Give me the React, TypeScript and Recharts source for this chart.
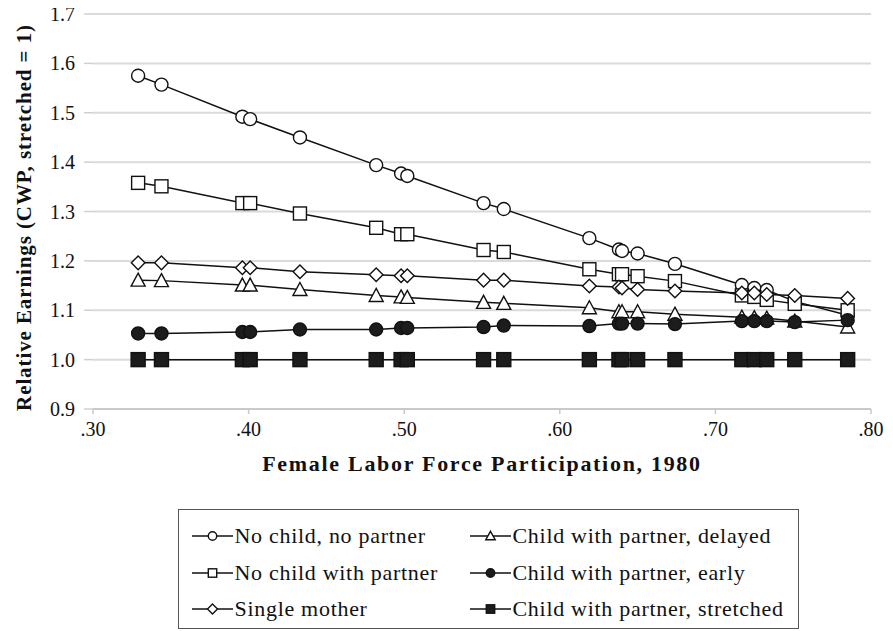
import React from 'react'
import { LineChart, Line, XAxis, YAxis, CartesianGrid, Legend } from 'recharts'

// female labor force participation, 1980 (one point per place)
const participation = [0.329, 0.344, 0.396, 0.401, 0.433, 0.482, 0.498, 0.502, 0.551, 0.564, 0.619, 0.638, 0.640, 0.650, 0.674, 0.717, 0.725, 0.733, 0.751, 0.785]

const noChildNoPartner = [1.575, 1.557, 1.492, 1.487, 1.450, 1.394, 1.377, 1.372, 1.317, 1.305, 1.246, 1.223, 1.220, 1.215, 1.194, 1.151, 1.145, 1.141, 1.118, 1.090]
const noChildWithPartner = [1.358, 1.351, 1.317, 1.317, 1.296, 1.267, 1.254, 1.254, 1.222, 1.218, 1.183, 1.173, 1.173, 1.169, 1.159, 1.130, 1.127, 1.121, 1.113, 1.100]
const singleMother = [1.196, 1.196, 1.186, 1.186, 1.178, 1.172, 1.170, 1.170, 1.161, 1.161, 1.149, 1.147, 1.145, 1.142, 1.139, 1.135, 1.135, 1.132, 1.130, 1.124]
const childDelayed = [1.161, 1.160, 1.151, 1.151, 1.142, 1.130, 1.127, 1.126, 1.116, 1.114, 1.105, 1.097, 1.097, 1.097, 1.092, 1.086, 1.085, 1.084, 1.078, 1.066]
const childEarly = [1.053, 1.053, 1.056, 1.056, 1.061, 1.061, 1.064, 1.064, 1.066, 1.069, 1.068, 1.073, 1.073, 1.073, 1.072, 1.078, 1.078, 1.078, 1.076, 1.080]
const childStretched = [1, 1, 1, 1, 1, 1, 1, 1, 1, 1, 1, 1, 1, 1, 1, 1, 1, 1, 1, 1]

const xTicks = [0.3, 0.4, 0.5, 0.6, 0.7, 0.8]
const yTicks = [0.9, 1.0, 1.1, 1.2, 1.3, 1.4, 1.5, 1.6, 1.7]

const data = participation.map((x, i) => ({
  x,
  noChildNoPartner: noChildNoPartner[i],
  noChildWithPartner: noChildWithPartner[i],
  singleMother: singleMother[i],
  childDelayed: childDelayed[i],
  childEarly: childEarly[i],
  childStretched: childStretched[i],
}))

const FONT = '"Liberation Serif", "Times New Roman", serif'
const INK = '#111'

type Shape = 'circle' | 'square' | 'diamond' | 'triangle'

// one marker, used both on the chart and in the legend
function Marker({ shape, cx, cy, s, filled }: { shape: Shape; cx: number; cy: number; s: number; filled: boolean }) {
  const fill = filled ? '#1c1c1c' : '#fff'
  const common = { fill, stroke: INK, strokeWidth: 1.4 }
  if (shape === 'circle') return <circle cx={cx} cy={cy} r={s} {...common} />
  if (shape === 'square') return <rect x={cx - s} y={cy - s} width={s * 2} height={s * 2} {...common} />
  if (shape === 'diamond')
    return <polygon points={`${cx},${cy - s - 0.8} ${cx + s + 0.8},${cy} ${cx},${cy + s + 0.8} ${cx - s - 0.8},${cy}`} {...common} />
  return <polygon points={`${cx},${cy - s - 0.5} ${cx + s + 0.5},${cy + s - 0.5} ${cx - s - 0.5},${cy + s - 0.5}`} {...common} />
}

const dotFor = (shape: Shape, filled: boolean, s: number) => (props: any) => {
  const { cx, cy, index } = props
  if (cx == null || cy == null) return <g key={index} />
  return (
    <g key={index}>
      <Marker shape={shape} cx={cx} cy={cy} s={s} filled={filled} />
    </g>
  )
}

const series = [
  { key: 'noChildNoPartner', name: 'No child, no partner', shape: 'circle' as Shape, filled: false, s: 6.5 },
  { key: 'noChildWithPartner', name: 'No child with partner', shape: 'square' as Shape, filled: false, s: 6.5 },
  { key: 'singleMother', name: 'Single mother', shape: 'diamond' as Shape, filled: false, s: 6 },
  { key: 'childDelayed', name: 'Child with partner, delayed', shape: 'triangle' as Shape, filled: false, s: 6.5 },
  { key: 'childEarly', name: 'Child with partner, early', shape: 'circle' as Shape, filled: true, s: 6.5 },
  { key: 'childStretched', name: 'Child with partner, stretched', shape: 'square' as Shape, filled: true, s: 7 },
]

// legend order: left column then right column
const legendOrder = [0, 3, 1, 4, 2, 5]

function LegendBox() {
  return (
    <div
      style={{
        border: '1.5px solid #555',
        background: '#fff',
        width: 621,
        height: 120,
        boxSizing: 'border-box',
        display: 'grid',
        gridTemplateColumns: '278px 330px',
        gridAutoRows: '36.5px',
        paddingTop: 8,
        paddingLeft: 12.5,
        fontFamily: FONT,
        fontSize: 22,
        color: '#111',
      }}
    >
      {legendOrder.map(i => {
        const s = series[i]
        return (
          <div key={s.key} style={{ display: 'flex', alignItems: 'center', whiteSpace: 'nowrap' }}>
            <svg width={41} height={20} style={{ marginRight: 2 }}>
              <line x1={0} y1={10} x2={41} y2={10} stroke={INK} strokeWidth={1.4} />
              <Marker shape={s.shape} cx={20.5} cy={10} s={4.2} filled={s.filled} />
            </svg>
            <span style={{ letterSpacing: 0.7 }}>{s.name}</span>
          </div>
        )
      })}
    </div>
  )
}

export default function App() {
  return (
    <div style={{ margin: '-8px 0 0 -8px', width: 893, height: 631 }}>
      <LineChart
        width={893}
        height={631}
        data={data}
        margin={{ top: 14, right: 22, bottom: 192, left: 0 }}
        style={{ fontFamily: FONT }}
      >
        <CartesianGrid horizontal vertical={false} stroke="#dadada" strokeWidth={2} />
        <XAxis
          type="number"
          dataKey="x"
          domain={[0.3, 0.8]}
          ticks={xTicks}
          interval={0}
          tickFormatter={(v: number) => v.toFixed(2).replace(/^0/, '')}
          axisLine={{ stroke: '#c9c9c9', strokeWidth: 2 }}
          tickLine={{ stroke: '#c9c9c9', strokeWidth: 1.5 }}
          tickSize={5}
          tickMargin={8}
          height={30}
          tick={{ fill: '#111', fontSize: 20, fontFamily: FONT }}
          label={{
            value: 'Female Labor Force Participation, 1980',
            position: 'bottom',
            offset: 16,
            style: { fontWeight: 700, fontSize: 22, fill: '#111', fontFamily: FONT, letterSpacing: 1.7 },
          }}
        />
        <YAxis
          type="number"
          domain={[0.9, 1.7]}
          ticks={yTicks}
          interval={0}
          tickFormatter={(v: number) => v.toFixed(1)}
          axisLine={false}
          tickLine={{ stroke: '#d0d0d0', strokeWidth: 1.5 }}
          tickSize={9}
          tickMargin={9}
          width={93}
          tick={{ fill: '#111', fontSize: 20, fontFamily: FONT }}
          label={{
            value: 'Relative Earnings (CWP, stretched = 1)',
            angle: -90,
            position: 'insideLeft',
            offset: 24,
            dy: 6,
            style: { textAnchor: 'middle', fontWeight: 700, fontSize: 21, fill: '#111', fontFamily: FONT, letterSpacing: 0.9 },
          }}
        />
        <Legend
          layout="horizontal"
          verticalAlign="middle"
          align="center"
          wrapperStyle={{ position: 'absolute', left: 178, top: 509, width: 621, height: 120 }}
          content={() => <LegendBox />}
        />
        {series.map(s => (
          <Line
            key={s.key}
            dataKey={s.key}
            name={s.name}
            stroke={INK}
            strokeWidth={1.5}
            dot={dotFor(s.shape, s.filled, s.s)}
            activeDot={false}
            isAnimationActive={false}
          />
        ))}
      </LineChart>
    </div>
  )
}
